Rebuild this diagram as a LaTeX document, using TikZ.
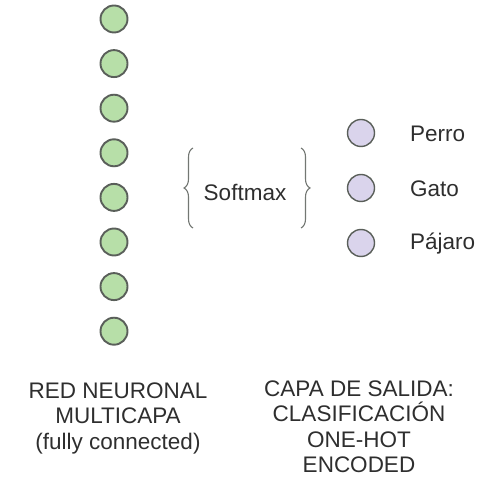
\documentclass[tikz,border=0pt]{standalone}
\usepackage{fontspec}
\setmainfont{Liberation Sans}
\usetikzlibrary{decorations.pathreplacing}
\definecolor{neurongreen}{HTML}{B7DFA8}
\definecolor{neuronpurple}{HTML}{DAD4EC}
\definecolor{edgegrey}{HTML}{5A5F5A}
\definecolor{textgrey}{HTML}{2E2E2E}
\begin{document}
\begin{tikzpicture}[x=1pt,y=1pt,
  hidden/.style={circle,draw=edgegrey,line width=1.9pt,fill=neurongreen,minimum size=27pt,inner sep=0pt},
  outunit/.style={circle,draw=edgegrey,line width=1.4pt,fill=neuronpurple,minimum size=27pt,inner sep=0pt},
  lbl/.style={text=textgrey,font=\fontsize{22.5}{25.5}\selectfont,inner sep=0pt},
  caption/.style={lbl,align=center},
  bracestyle/.style={draw=edgegrey!85,line width=1.1pt,decorate,decoration={brace,amplitude=9pt}}]
\useasboundingbox (0,0) rectangle (492,479);
% hidden layer
\foreach \i in {0,...,7}{
  \node[hidden] (h\i) at (114,{479-19-44.6*\i}) {};
}
% output layer
\node[outunit] (o1) at (361,346) {};
\node[outunit] (o2) at (361,291) {};
\node[outunit] (o3) at (361,236) {};
\node[lbl,anchor=west] (t1) at (410,345) {Perro};
\node[lbl,anchor=west] (t2) at (410,290) {Gato};
\node[lbl,anchor=west] (t3) at (410,235) {Pájaro};
% softmax with braces
\node[lbl] (sm) at (245,287) {Softmax};
\coordinate (lb) at (193,251);
\coordinate (lt) at (193,331);
\coordinate (rt) at (301,331);
\coordinate (rb) at (301,251);
\draw[bracestyle] (lb) -- (lt);
\draw[bracestyle] (rt) -- (rb);
% captions
\node[caption] (capl) at (118,61) {RED NEURONAL\\MULTICAPA\\(fully connected)};
\node[caption] (capr) at (359,52) {CAPA DE SALIDA:\\CLASIFICACIÓN\\ONE-HOT\\ENCODED};
\end{tikzpicture}
\end{document}
